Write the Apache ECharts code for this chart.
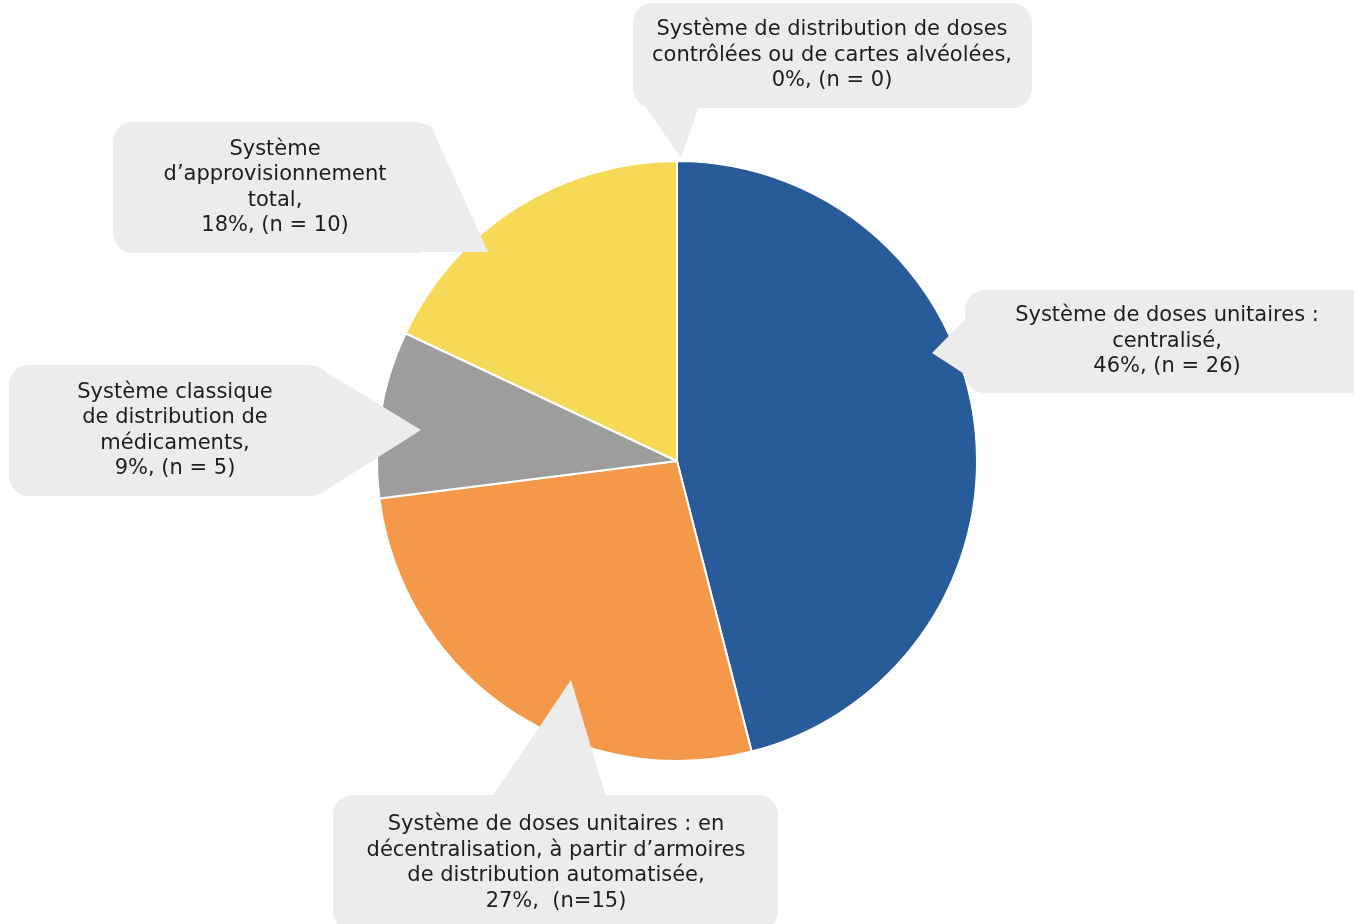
<!DOCTYPE html>
<html>
<head>
<meta charset="utf-8">
<style>
  html, body { margin: 0; padding: 0; background: #fff; }
  #chart { width: 1354px; height: 924px; }
</style>
<script src="https://cdn.jsdelivr.net/npm/echarts@6/dist/echarts.min.js"></script>
</head>
<body>
<div id="chart"></div>
<script>
// data
var categories = [
  'Système de doses unitaires :\ncentralisé,',
  'Système de doses unitaires : en\ndécentralisation, à partir d’armoires\nde distribution automatisée,',
  'Système classique\nde distribution de\nmédicaments,',
  'Système\nd’approvisionnement\ntotal,',
  'Système de distribution de doses\ncontrôlées ou de cartes alvéolées,'
];
var percents = [46, 27, 9, 18, 0];
var counts = [26, 15, 5, 10, 0];
var colors = ['#285b9a', '#f4984a', '#9d9d9c', '#f6d957', '#eeeeee'];

// callout boxes: box edges, text centre, pointer triangle
var callouts = [
  { l: 965, r: 1372, t: 290, b: 393, cx: 1167, cy: 345, tri: [[992, 292], [932, 353], [992, 392]] },
  { l: 333, r: 778, t: 795, b: 931, cx: 556, cy: 865, tri: [[492, 797], [571, 680], [606, 797]] },
  { l: 9, r: 330, t: 365, b: 496, cx: 175, cy: 435, tri: [[316, 366], [421, 430], [320, 494]] },
  { l: 113, r: 436, t: 122, b: 253, cx: 275, cy: 192, tri: [[430, 124], [488, 252], [400, 252]] },
  { l: 633, r: 1032, t: 3, b: 108, cx: 832, cy: 61, tri: [[645, 106], [681, 158], [699, 106]] }
];
var lineH = 25.5;

var chart = echarts.init(document.getElementById('chart'));

var seriesData = categories.map(function (name, i) {
  var c = callouts[i];
  var lines = name.split('\n').length + 1;
  var tw = 2 * Math.min(c.cx - c.l, c.r - c.cx) - 30;
  var th = lines * lineH;
  return {
    name: name,
    value: percents[i],
    itemStyle: { color: colors[i] },
    label: {
      width: tw,
      padding: [c.cy - c.t - th / 2, c.r - c.cx - tw / 2, c.b - c.cy - th / 2, c.cx - c.l - tw / 2]
    }
  };
});

var option = {
  backgroundColor: '#ffffff',
  animation: false,
  graphic: callouts.map(function (c) {
    return {
      type: 'polygon',
      z: 10,
      silent: true,
      shape: { points: c.tri },
      style: { fill: '#ececec' }
    };
  }),
  series: [
    {
      type: 'pie',
      center: [677, 461],
      radius: 300,
      startAngle: 90,
      clockwise: true,
      avoidLabelOverlap: false,
      itemStyle: { borderColor: '#ffffff', borderWidth: 2 },
      labelLine: { show: false },
      label: {
        show: true,
        position: 'outside',
        overflow: 'none',
        color: '#1d1d1b',
        fontFamily: 'DejaVu Sans',
        fontSize: 21,
        lineHeight: lineH,
        backgroundColor: '#ececec',
        borderRadius: 20,
        align: 'center',
        formatter: function (p) {
          var i = p.dataIndex;
          var n = i === 1 ? ' (n=' + counts[i] + ')' : '(n = ' + counts[i] + ')';
          return p.name + '\n' + p.value + '%, ' + n;
        }
      },
      labelLayout: function (params) {
        var c = callouts[params.dataIndex];
        return {
          x: (c.l + c.r) / 2,
          y: (c.t + c.b) / 2,
          align: 'center',
          verticalAlign: 'middle'
        };
      },
      emphasis: { disabled: true },
      data: seriesData
    }
  ]
};

chart.setOption(option);
</script>
</body>
</html>
